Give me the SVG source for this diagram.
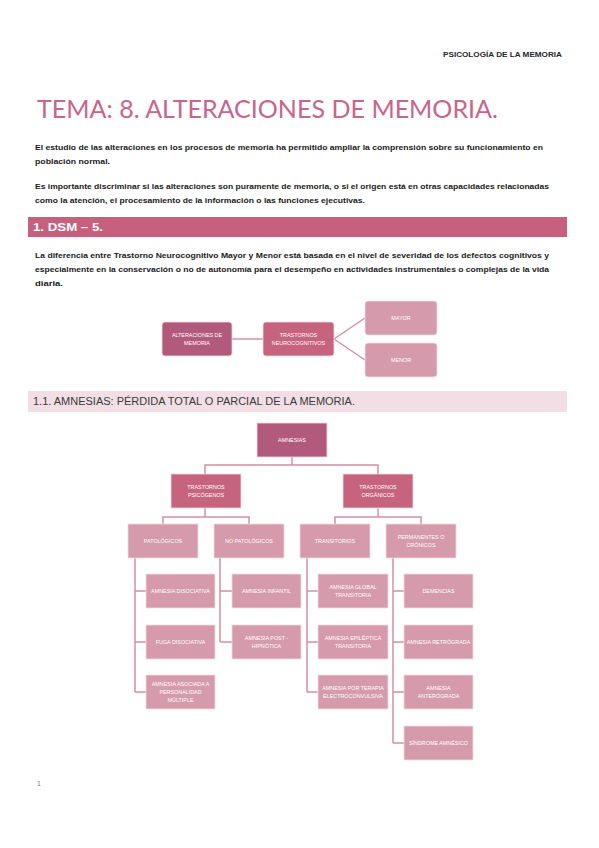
<svg xmlns="http://www.w3.org/2000/svg" width="599" height="848" viewBox="0 0 599 848">
<style>
.body{font-family:"Liberation Sans",Arial,sans-serif;font-size:8px;font-weight:bold;fill:#1a1a1a}
.bt{font-family:"Liberation Sans",Arial,sans-serif;font-size:5.4px;fill:#ffffff;text-anchor:middle}
.dark{fill:#b25a7b;stroke:#f3dde4;stroke-width:0.8}
.mid{fill:#c6637f;stroke:#f3dde4;stroke-width:0.8}
.light{fill:#d59aab;stroke:#f3dde4;stroke-width:0.8}
.con{fill:none;stroke:#d490a5;stroke-width:1.5}
</style>
<rect width="599" height="848" fill="#ffffff"/>
<text x="562" y="57" text-anchor="end" font-family="Liberation Sans,Arial,sans-serif" font-size="7.5" font-weight="bold" fill="#262626" textLength="119" lengthAdjust="spacingAndGlyphs">PSICOLOGÍA DE LA MEMORIA</text>
<text x="37" y="118" font-family="Lato,Liberation Sans,sans-serif" font-size="25" fill="#c9648a" textLength="461" lengthAdjust="spacingAndGlyphs">TEMA: 8. ALTERACIONES DE MEMORIA.</text>
<text class="body" x="35" y="150" textLength="508" lengthAdjust="spacingAndGlyphs">El estudio de las alteraciones en los procesos de memoria ha permitido ampliar la comprensión sobre su funcionamiento en</text>
<text class="body" x="35" y="164" textLength="75" lengthAdjust="spacingAndGlyphs">población normal.</text>
<text class="body" x="35" y="189" textLength="514" lengthAdjust="spacingAndGlyphs">Es importante discriminar si las alteraciones son puramente de memoria, o si el origen está en otras capacidades relacionadas</text>
<text class="body" x="35" y="203" textLength="330" lengthAdjust="spacingAndGlyphs">como la atención, el procesamiento de la información o las funciones ejecutivas.</text>
<rect x="28" y="217" width="539" height="20" fill="#c5617f"/>
<text x="33" y="231" font-family="Liberation Sans,Arial,sans-serif" font-size="10" font-weight="bold" fill="#ffffff" textLength="70" lengthAdjust="spacingAndGlyphs">1. DSM – 5.</text>
<text class="body" x="35" y="258" textLength="514" lengthAdjust="spacingAndGlyphs">La diferencia entre Trastorno Neurocognitivo Mayor y Menor está basada en el nivel de severidad de los defectos cognitivos y</text>
<text class="body" x="35" y="272" textLength="514" lengthAdjust="spacingAndGlyphs">especialmente en la conservación o no de autonomía para el desempeño en actividades instrumentales o complejas de la vida</text>
<text class="body" x="35" y="286" textLength="28" lengthAdjust="spacingAndGlyphs">diaria.</text>
<g id="connectors">
<path class="con" d="M232 339 H263"/>
<path class="con" d="M334 339 L365 318 M334 339 L365 360"/>
<path class="con" d="M292 457 V465 M205 474 V465 H378 V474"/>
<path class="con" d="M205 508 V517 M163 524 V517 H249 V524"/>
<path class="con" d="M378 508 V517 M335 524 V517 H421 V524"/>
<path class="con" d="M135 558 V692 M135 591 H146 M135 642 H146 M135 692 H146"/>
<path class="con" d="M220 558 V642 M220 591 H232 M220 642 H232"/>
<path class="con" d="M307 558 V692 M307 591 H318 M307 642 H318 M307 692 H318"/>
<path class="con" d="M393 558 V743 M393 591 H404 M393 642 H404 M393 692 H404 M393 743 H404"/>
</g>
<g id="n-alteraciones"><rect class="dark" x="162" y="322" width="70" height="34" rx="3"/><text class="bt" x="197" y="337">ALTERACIONES DE</text><text class="bt" x="197" y="345">MEMORIA</text></g>
<g id="n-trastornos-neuro"><rect class="mid" x="263" y="322" width="71" height="34" rx="3"/><text class="bt" x="298.5" y="337">TRASTORNOS</text><text class="bt" x="298.5" y="345">NEUROCOGNITIVOS</text></g>
<g id="n-mayor"><rect class="light" x="365" y="301" width="72" height="34" rx="3"/><text class="bt" x="401" y="320">MAYOR</text></g>
<g id="n-menor"><rect class="light" x="365" y="343" width="72" height="34" rx="3"/><text class="bt" x="401" y="362">MENOR</text></g>
<rect x="28" y="391" width="539" height="21" fill="#f2dfe5"/>
<text x="33" y="405" font-family="Liberation Sans,Arial,sans-serif" font-size="10" fill="#3a3a3a" textLength="322" lengthAdjust="spacingAndGlyphs">1.1. AMNESIAS: PÉRDIDA TOTAL O PARCIAL DE LA MEMORIA.</text>
<g id="n-amnesias"><rect class="dark" x="257" y="423" width="70" height="34"/><text class="bt" x="292" y="442">AMNESIAS</text></g>
<g id="n-psicogenos"><rect class="mid" x="171" y="474" width="70" height="34"/><text class="bt" x="206" y="489">TRASTORNOS</text><text class="bt" x="206" y="497">PSICÓGENOS</text></g>
<g id="n-organicos"><rect class="mid" x="343" y="474" width="70" height="34"/><text class="bt" x="378" y="489">TRASTORNOS</text><text class="bt" x="378" y="497">ORGÁNICOS</text></g>
<g id="n-patologicos"><rect class="light" x="128" y="524" width="70" height="34"/><text class="bt" x="163" y="543">PATOLÓGICOS</text></g>
<g id="n-nopatologicos"><rect class="light" x="214" y="524" width="70" height="34"/><text class="bt" x="249" y="543">NO PATOLÓGICOS</text></g>
<g id="n-transitorios"><rect class="light" x="300" y="524" width="70" height="34"/><text class="bt" x="335" y="543">TRANSITORIOS</text></g>
<g id="n-permanentes"><rect class="light" x="386" y="524" width="70" height="34"/><text class="bt" x="421" y="539">PERMANENTES O</text><text class="bt" x="421" y="547">CRÓNICOS</text></g>
<g id="n-disociativa"><rect class="light" x="146" y="574" width="69" height="34"/><text class="bt" x="180.5" y="593">AMNESIA DISOCIATIVA</text></g>
<g id="n-fuga"><rect class="light" x="146" y="625" width="69" height="34"/><text class="bt" x="180.5" y="644">FUGA DISOCIATIVA</text></g>
<g id="n-multiple"><rect class="light" x="146" y="675" width="69" height="34"/><text class="bt" x="180.5" y="686">AMNESIA ASOCIADA A</text><text class="bt" x="180.5" y="694">PERSONALIDAD</text><text class="bt" x="180.5" y="702">MÚLTIPLE</text></g>
<g id="n-infantil"><rect class="light" x="232" y="574" width="69" height="34"/><text class="bt" x="266.5" y="593">AMNESIA INFANTIL</text></g>
<g id="n-posthipnotica"><rect class="light" x="232" y="625" width="69" height="34"/><text class="bt" x="266.5" y="640">AMNESIA POST -</text><text class="bt" x="266.5" y="648">HIPNÓTICA</text></g>
<g id="n-global"><rect class="light" x="318" y="574" width="70" height="34"/><text class="bt" x="353" y="589">AMNESIA GLOBAL</text><text class="bt" x="353" y="597">TRANSITORIA</text></g>
<g id="n-epileptica"><rect class="light" x="318" y="625" width="70" height="34"/><text class="bt" x="353" y="640">AMNESIA EPILÉPTICA</text><text class="bt" x="353" y="648">TRANSITORIA</text></g>
<g id="n-terapia"><rect class="light" x="318" y="675" width="70" height="34"/><text class="bt" x="353" y="690">AMNESIA POR TERAPIA</text><text class="bt" x="353" y="698">ELECTROCONVULSIVA</text></g>
<g id="n-demencias"><rect class="light" x="404" y="574" width="69" height="34"/><text class="bt" x="438.5" y="593">DEMENCIAS</text></g>
<g id="n-retrograda"><rect class="light" x="404" y="625" width="69" height="34"/><text class="bt" x="438.5" y="644">AMNESIA RETRÓGRADA</text></g>
<g id="n-anterograda"><rect class="light" x="404" y="675" width="69" height="34"/><text class="bt" x="438.5" y="690">AMNESIA</text><text class="bt" x="438.5" y="698">ANTERÓGRADA</text></g>
<g id="n-sindrome"><rect class="light" x="404" y="726" width="69" height="34"/><text class="bt" x="438.5" y="745">SÍNDROME AMNÉSICO</text></g>
<text x="37" y="786" font-family="Liberation Sans,Arial,sans-serif" font-size="7" fill="#7f7f7f">1</text>
</svg>
